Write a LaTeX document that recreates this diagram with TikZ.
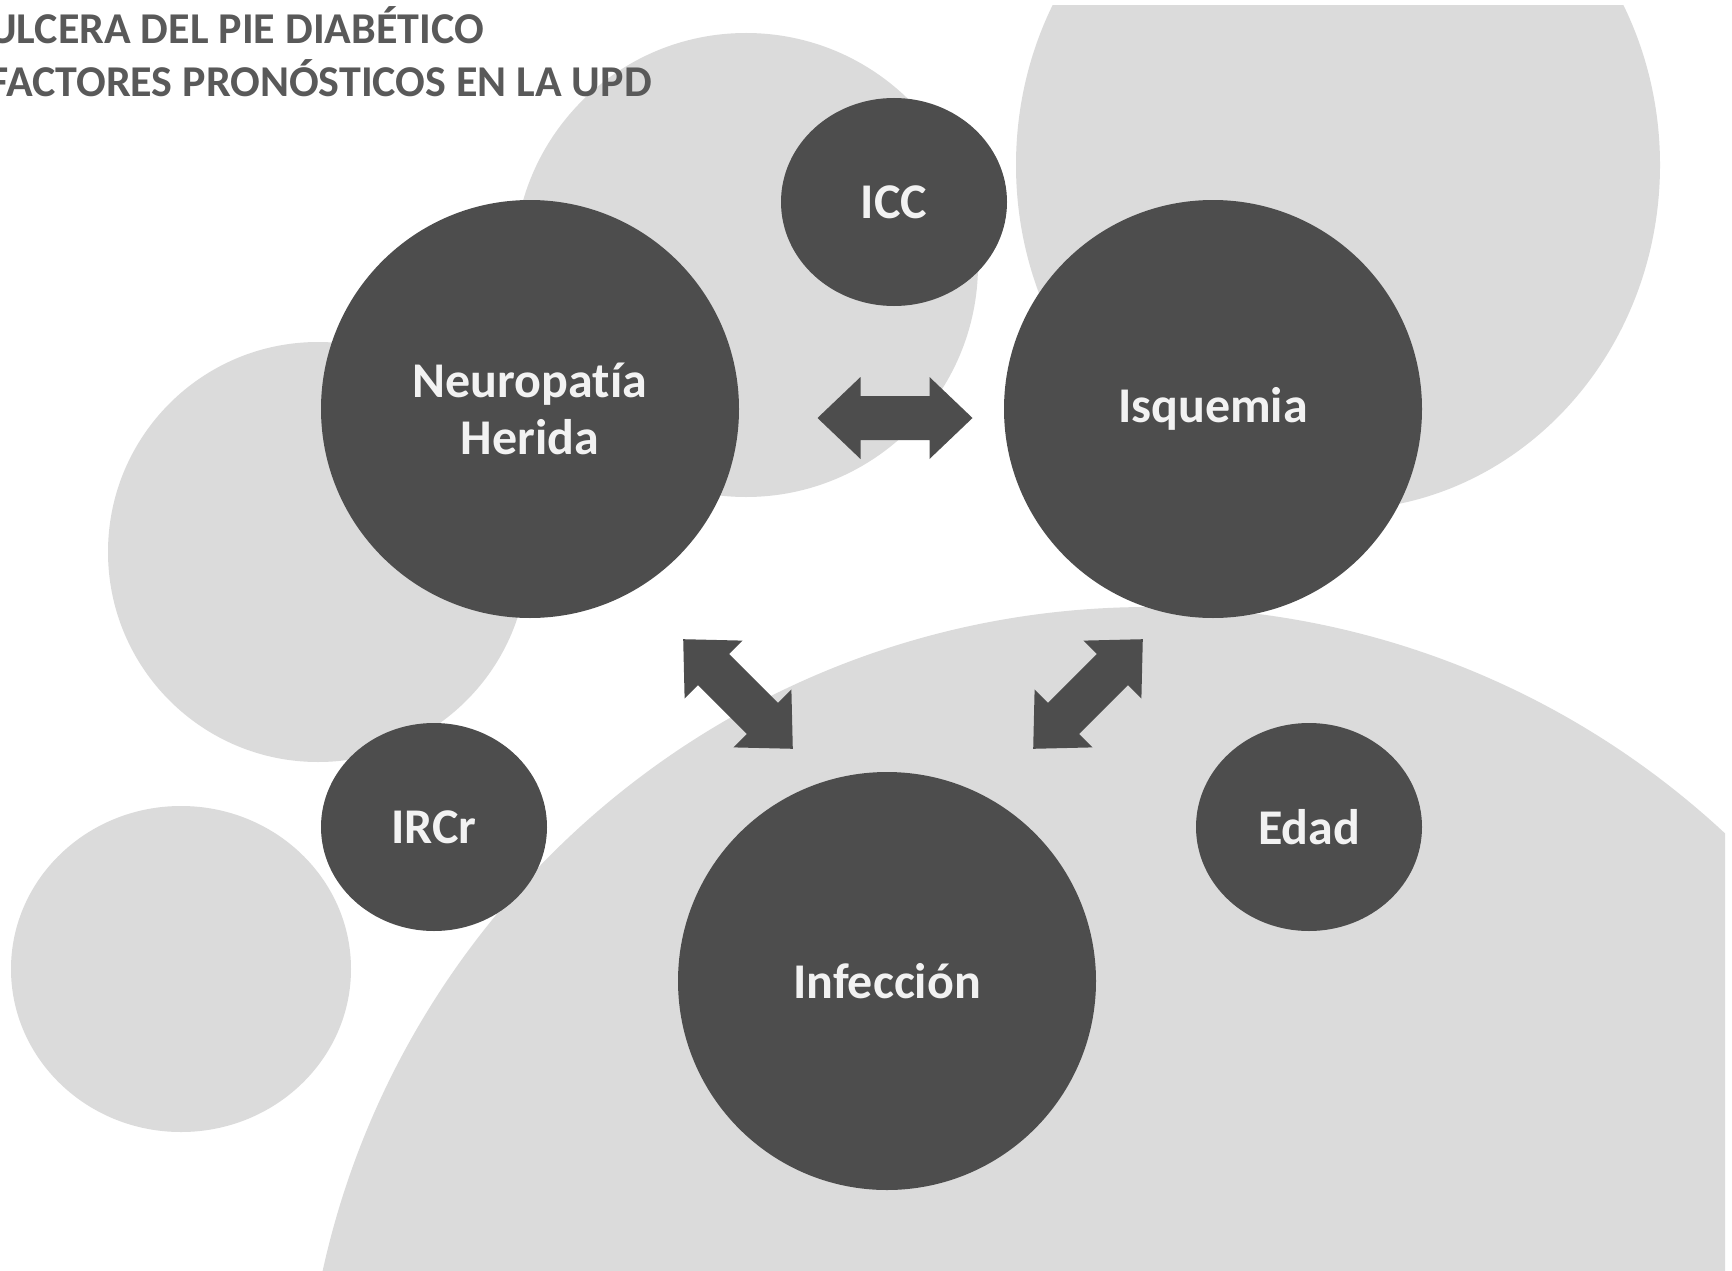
\documentclass[tikz,border=0pt]{standalone}
\usepackage{fontspec}
\setmainfont{Carlito}[Ligatures=NoCommon]
\usetikzlibrary{shapes.geometric}
\definecolor{bgc}{HTML}{DBDBDB}
\definecolor{dkc}{HTML}{4D4D4D}
\definecolor{txc}{HTML}{F2F2F2}
\definecolor{ttl}{HTML}{595959}
\begin{document}
\begin{tikzpicture}[x=1pt,y=-1pt,
  bgdisc/.style={fill=bgc},
  lbl/.style={text=txc, inner sep=0pt, align=center, font=\fontsize{50}{57}\selectfont\bfseries},
  bignode/.style={lbl, circle, fill=dkc, minimum size=418pt},
  smallnode/.style={lbl, ellipse, fill=dkc, minimum width=226pt, minimum height=208pt},
  titletext/.style={text=ttl, inner sep=0pt, font=\fontsize{44}{50}\selectfont\bfseries},
  blockarrow/.pic={\fill[dkc] (-77.5,0) -- (-34.5,41) -- (-34.5,22) -- (34.5,22) -- (34.5,41)
      -- (77.5,0) -- (34.5,-41) -- (34.5,-22) -- (-34.5,-22) -- (-34.5,-41) -- cycle;}
]
\useasboundingbox (0,0) rectangle (1732,1271);
\clip (0,0) rectangle (1732,1271);
\fill[white] (0,0) rectangle (1732,1271);
% background discs
\begin{scope}
\clip (0,6) rectangle (1725,1271);
\fill[bgdisc] (1338,165) ellipse[x radius=322, y radius=345];
\fill[bgdisc] (746,265) circle[radius=232];
\fill[bgdisc] (318,552) circle[radius=210];
\fill[bgdisc] (181,969) ellipse[x radius=170, y radius=163];
\fill[bgdisc] (1149,1453) circle[radius=846];
\end{scope}
% title
\node[titletext, anchor=base east] (t1) at (484,44) {ULCERA DEL PIE DIABÉTICO};
\node[titletext, anchor=base east] (t2) at (652,97) {FACTORES PRONÓSTICOS EN LA UPD};
% main nodes
\node[bignode] (neuro) at (530,409) {Neuropatía\\Herida};
\node[bignode] (isq) at (1213,409) {Isquemia};
\node[bignode] (inf) at (887,981) {Infección};
\node[smallnode] (icc) at (894,202) {ICC};
\node[smallnode] (ircr) at (434,827) {IRCr};
\node[smallnode] (edad) at (1309,827) {Edad};
% block arrows
\pic at (895,418) {blockarrow};
\pic[rotate=-45] at (738,694) {blockarrow};
\pic[rotate=45] at (1088,694) {blockarrow};
\end{tikzpicture}
\end{document}
